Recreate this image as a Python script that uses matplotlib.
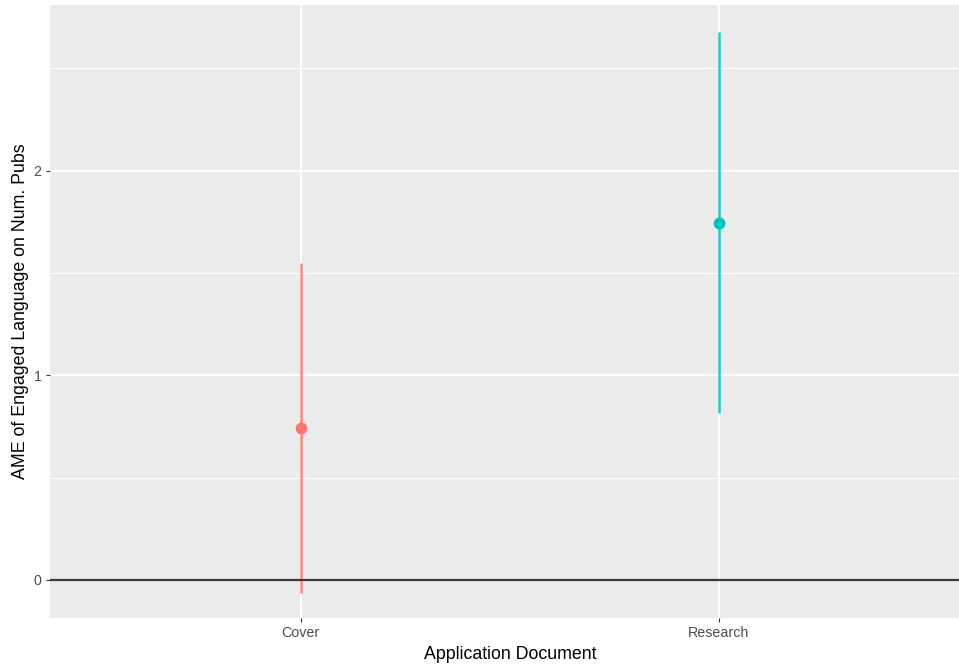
import matplotlib
matplotlib.use("Agg")
import matplotlib.pyplot as plt
from matplotlib.ticker import FixedLocator

categories = ["Cover", "Research"]
estimates = [0.745, 1.745]
lower = [-0.064, 0.814]
upper = [1.549, 2.676]
colors = ["#F8766D", "#00BFC4"]

plt.rcParams["font.family"] = ["Liberation Sans", "DejaVu Sans"]

W, H = 959, 665
fig = plt.figure(figsize=(W / 100, H / 100), dpi=100)
fig.patch.set_facecolor("white")
ax = fig.add_axes([50 / W, (H - 618) / H, (W - 50) / W, (618 - 5) / H])
ax.set_facecolor("#EBEBEB")

x = list(range(1, len(categories) + 1))
ax.set_xlim(0.4, 2.574)
ax.set_ylim(-0.186, 2.81)

# grid
for yv in [0.5, 1.5, 2.5]:
    ax.axhline(yv, color="white", lw=0.8, zorder=0)
for yv in [0, 1, 2]:
    ax.axhline(yv, color="white", lw=1.5, zorder=0)
for xv in x:
    ax.axvline(xv, color="white", lw=1.5, zorder=0)

ax.axhline(0, color="#3a3a3a", lw=1.6, zorder=3)

for xi, est, lo, hi, c in zip(x, estimates, lower, upper, colors):
    ax.vlines(xi, lo, hi, color=c, lw=1.8, alpha=0.85, zorder=2)
    ax.plot([xi], [est], "o", color=c, ms=8.5, mec="none", zorder=4)

ax.set_xticks(x)
ax.set_xticklabels(categories)
ax.yaxis.set_major_locator(FixedLocator([0, 1, 2]))
ax.set_yticklabels(["0", "1", "2"])
ax.tick_params(axis="both", colors="#333333", labelcolor="#4D4D4D",
               labelsize=10.3, length=3, width=0.8, pad=3)
for s in ax.spines.values():
    s.set_visible(False)

ax.set_xlabel("Application Document", fontsize=12.8, color="black")
ax.xaxis.set_label_coords(0.5065, -0.045, transform=ax.transAxes)
ax.set_ylabel("AME of Engaged Language on Num. Pubs", fontsize=12.8, color="black", labelpad=3)

fig.savefig("out.png", dpi=100, facecolor="white")
